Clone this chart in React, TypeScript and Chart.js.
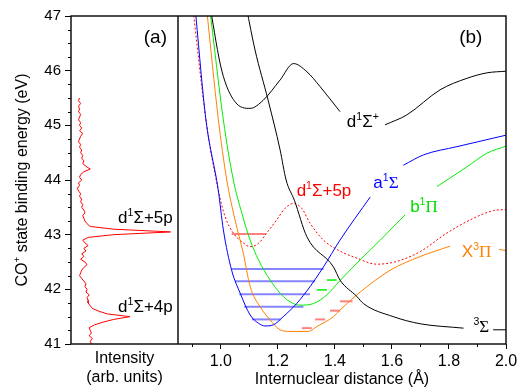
import React, { useEffect, useRef } from 'react';
import { Chart, registerables } from 'chart.js';
Chart.register(...registerables);

const SANS = '"Liberation Sans", Arial, sans-serif';
const SERIF = '"Liberation Serif", "Times New Roman", serif';

// axis ticks
const Y_TICKS = [41, 42, 43, 44, 45, 46, 47];
const Y_MIN = 41;
const Y_MAX = 47;
const R_TICKS = [1.0, 1.2, 1.4, 1.6, 1.8, 2.0];
const R_MINOR = [0.9, 1.1, 1.3, 1.5, 1.7, 1.9];

// panel (a): spectrum, energy (eV) and intensity (arb. units)
const SPEC_E = [45.5, 45.45, 45.4, 45.35, 45.3, 45.25, 45.2, 45.15, 45.1, 45.05, 45.0, 44.95, 44.9, 44.85, 44.8, 44.75, 44.7, 44.65, 44.6, 44.55, 44.5, 44.45, 44.4, 44.35, 44.3, 44.25, 44.2, 44.15, 44.1, 44.05, 44.0, 43.95, 43.9, 43.85, 43.8, 43.75, 43.7, 43.65, 43.6, 43.55, 43.5, 43.45, 43.4, 43.35, 43.3, 43.25, 43.2, 43.15, 43.1, 43.05, 43.0, 42.95, 42.9, 42.85, 42.8, 42.75, 42.7, 42.65, 42.6, 42.55, 42.5, 42.45, 42.4, 42.35, 42.3, 42.25, 42.2, 42.15, 42.1, 42.05, 42.0, 41.95, 41.9, 41.85, 41.8, 41.75, 41.7, 41.65, 41.6, 41.55, 41.5, 41.45, 41.4, 41.35, 41.3, 41.25, 41.2, 41.15, 41.1, 41.05, 41.0];
const SPEC_I = [8, 7, 9, 7, 8, 7, 9, 8, 7, 9, 8, 10, 8, 11, 9, 8, 7, 9, 8, 10, 9, 11, 10, 12, 11, 14, 18, 12, 9, 8, 10, 7, 8, 6, 7, 9, 8, 10, 9, 11, 10, 12, 13, 11, 12, 13, 15, 18, 40, 93, 40, 16, 11, 13, 16, 12, 14, 10, 12, 9, 13, 15, 12, 10, 9, 8, 10, 12, 14, 13, 15, 14, 17, 15, 16, 16, 18, 20, 26, 34, 55, 40, 30, 22, 17, 18, 19, 17, 20, 18, 19];

// panel (b): potential curves, R (Å) and E (eV); null = gap behind label
const D1S_R = [0.963, 1.003, 1.05, 1.103, 1.149, 1.208, 1.255, 1.302, 1.348, 1.418, 1.5, 1.576, 1.652, 1.769, 1.863, 1.933, 2.0];
const D1S_E = [47.15, 46.01, 45.43, 45.31, 45.46, 45.83, 46.13, 45.98, 45.71, 45.25, null, 45.01, 45.19, 45.65, 45.86, 45.96, 45.99];

const S3_R = [1.09, 1.12, 1.166, 1.208, 1.229, 1.258, 1.302, 1.395, 1.418, 1.477, 1.5, 1.605, 1.699, 1.851, 1.9, 1.955, 2.0];
const S3_E = [47.15, 46.38, 45.46, 44.55, 44.0, 43.63, 42.96, 42.41, 42.17, 41.87, 41.74, 41.5, 41.37, 41.29, null, 41.26, 41.26];

const A1S_R = [0.91, 0.948, 0.991, 1.009, 1.038, 1.068, 1.103, 1.132, 1.155, 1.184, 1.219, 1.266, 1.313, 1.36, 1.418, 1.524, 1.58, 1.64, 1.711, 1.828, 2.0];
const A1S_E = [47.15, 45.1, 43.82, 43.09, 42.35, 41.93, 41.53, 41.38, 41.33, 41.35, 41.5, 41.74, 42.05, 42.41, 42.9, 43.69, null, 44.27, 44.46, 44.61, 44.82];

const B1P_R = [0.961, 1.009, 1.044, 1.074, 1.103, 1.132, 1.173, 1.208, 1.243, 1.278, 1.325, 1.372, 1.418, 1.489, 1.559, 1.646, 1.7, 1.758, 1.863, 1.933, 2.0];
const B1P_E = [47.15, 45.1, 44.0, 43.39, 42.9, 42.54, 42.17, 41.93, 41.77, 41.71, 41.74, 41.9, 42.16, 42.54, 42.9, 43.36, null, 43.88, 44.24, 44.49, 44.62];

const X3P_R = [0.95, 0.991, 1.021, 1.05, 1.079, 1.103, 1.138, 1.173, 1.208, 1.243, 1.307, 1.337, 1.395, 1.418, 1.489, 1.594, 1.699, 1.804, 1.9, 1.976, 2.0];
const X3P_E = [47.15, 45.13, 44.0, 43.27, 42.66, 42.05, 41.68, 41.44, 41.26, 41.23, 41.23, 41.32, 41.5, 41.62, 41.95, 42.35, 42.6, 42.79, null, 42.73, 42.71];

const D5P_R = [0.902, 0.948, 0.991, 1.015, 1.044, 1.074, 1.103, 1.132, 1.161, 1.196, 1.225, 1.255, 1.284, 1.313, 1.36, 1.418, 1.477, 1.547, 1.617, 1.699, 1.793, 1.886, 1.956, 2.0];
const D5P_E = [47.15, 45.1, 43.82, 43.33, 43.03, 42.87, 42.78, 42.84, 43.03, 43.27, 43.48, 43.57, 43.48, 43.21, 42.9, 42.7, 42.57, 42.46, 42.51, 42.69, 43.03, 43.3, 43.44, 43.46];

// vibrational levels: energy, start R, end R
const LEV_A_E = [42.37, 42.15, 41.91, 41.68, 41.45];
const LEV_A_R0 = [1.038, 1.05, 1.065, 1.082, 1.109];
const LEV_A_R1 = [1.36, 1.331, 1.313, 1.29, 1.21];
const LEV_D_E = [43.01];
const LEV_D_R0 = [1.038];
const LEV_D_R1 = [1.158];
const LEV_B_E = [42.17, 41.99];
const LEV_B_R0 = [1.372, 1.337];
const LEV_B_R1 = [1.406, 1.372];
const LEV_X_E = [41.78, 41.61, 41.45, 41.29];
const LEV_X_R0 = [1.418, 1.383, 1.331, 1.284];
const LEV_X_R1 = [1.462, 1.418, 1.366, 1.319];

const curve = (R: number[], E: (number | null)[], color: string, extra: any = {}) => ({
  data: R.map((r, i) => ({ x: r, y: E[i] })),
  xAxisID: 'xb',
  yAxisID: 'y',
  showLine: true,
  borderColor: color,
  borderWidth: 1,
  pointRadius: 0,
  pointHoverRadius: 0,
  spanGaps: false,
  cubicInterpolationMode: 'monotone',
  fill: false,
  ...extra,
});

const levels = (E: number[], R0: number[], R1: number[], color: string, width: number) =>
  E.map((e, i) => ({
    data: [{ x: R0[i], y: e }, { x: R1[i], y: e }],
    xAxisID: 'xb',
    yAxisID: 'y',
    showLine: true,
    borderColor: color,
    borderWidth: width,
    pointRadius: 0,
    pointHoverRadius: 0,
    tension: 0,
    fill: false,
  }));

type Part = [string, string?];

function drawRich(ctx: CanvasRenderingContext2D, parts: Part[], x: number, y: number, size: number, color: string, align = 'left') {
  const fontOf = (sz: number, serif: boolean) => `${sz}px ${serif ? SERIF : SANS}`;
  let w = 0;
  const segs = parts.map(([t, k]) => {
    const sz = k === 's' ? size * 0.62 : size;
    ctx.font = fontOf(sz, k === 'f');
    const m = ctx.measureText(t).width;
    w += m;
    return { t, k, sz, m };
  });
  let cx = align === 'center' ? x - w / 2 : x;
  ctx.fillStyle = color;
  ctx.textAlign = 'left';
  ctx.textBaseline = 'alphabetic';
  for (const s of segs) {
    ctx.font = fontOf(s.sz, s.k === 'f');
    ctx.fillText(s.t, cx, s.k === 's' ? y - size * 0.42 : y);
    cx += s.m;
  }
}

const annotPlugin = {
  id: 'annot',
  afterDraw(chart: any) {
    const { ctx, chartArea: ca } = chart;
    const ys = chart.scales.y;
    const xa = chart.scales.xa;
    const xb = chart.scales.xb;
    ctx.save();
    // minor ticks
    ctx.strokeStyle = '#000';
    ctx.lineWidth = 1;
    ctx.beginPath();
    const nMinor = (Y_MAX - Y_MIN) * 4;
    for (let k = 1; k < nMinor; k++) {
      if (k % 4 === 0) continue;
      const py = Math.round(ys.getPixelForValue(Y_MIN + k * 0.25)) + 0.5;
      ctx.moveTo(ca.left - 3, py);
      ctx.lineTo(ca.left, py);
    }
    for (const r of R_MINOR) {
      const px = Math.round(xb.getPixelForValue(r)) + 0.5;
      ctx.moveTo(px, ca.bottom);
      ctx.lineTo(px, ca.bottom + 3);
    }
    ctx.stroke();
    // frame
    ctx.lineWidth = 1.5;
    ctx.strokeStyle = '#111';
    ctx.strokeRect(ca.left, ca.top, ca.right - ca.left, ca.bottom - ca.top);
    ctx.beginPath();
    ctx.moveTo(xb.left, ca.top);
    ctx.lineTo(xb.left, ca.bottom);
    ctx.stroke();

    const px = (s: any, v: number) => s.getPixelForValue(v);
    // panel labels
    drawRich(ctx, [['(a)']], px(xa, 68), px(ys, 46.51), 19, '#000');
    drawRich(ctx, [['(b)']], px(xb, 1.836), px(ys, 46.51), 19, '#000');
    // panel (a) peak labels
    drawRich(ctx, [['d'], ['1', 's'], ['Σ+5p']], px(xa, 44), px(ys, 43.21), 17, '#000');
    drawRich(ctx, [['d'], ['1', 's'], ['Σ+4p']], px(xa, 44), px(ys, 41.59), 17, '#000');
    // panel (b) curve labels
    drawRich(ctx, [['d'], ['1', 's'], ['Σ'], ['+', 's']], px(xb, 1.442), px(ys, 44.975), 17, '#000');
    drawRich(ctx, [['d'], ['1', 's'], ['Σ+5p']], px(xb, 1.266), px(ys, 43.71), 17, '#ff0000');
    drawRich(ctx, [['a'], ['1', 's'], ['Σ', 'f']], px(xb, 1.535), px(ys, 43.85), 17, '#0000ff');
    drawRich(ctx, [['b'], ['1', 's'], ['Π', 'f']], px(xb, 1.664), px(ys, 43.42), 17, '#00dd00');
    drawRich(ctx, [['X'], ['3', 's'], ['Π', 'f']], px(xb, 1.845), px(ys, 42.59), 17, '#ff8000');
    drawRich(ctx, [['3', 's'], ['Σ', 'f']], px(xb, 1.886), px(ys, 41.225), 17, '#000');

    // axis titles
    const cy = (ca.top + ca.bottom) / 2;
    ctx.save();
    ctx.translate(27, cy);
    ctx.rotate(-Math.PI / 2);
    drawRich(ctx, [['CO'], ['+', 's'], [' state binding energy (eV)']], 0, 0, 16, '#000', 'center');
    ctx.restore();
    drawRich(ctx, [['Intensity']], (xa.left + xa.right) / 2, 363, 16, '#000', 'center');
    drawRich(ctx, [['(arb. units)']], (xa.left + xa.right) / 2, 382, 16, '#000', 'center');
    drawRich(ctx, [['Internuclear distance (Å)']], (xb.left + xb.right) / 2, 384, 16, '#000', 'center');
    ctx.restore();
  },
};

export default function App() {
  const ref = useRef<HTMLCanvasElement | null>(null);
  useEffect(() => {
    if (!ref.current) return;
    const datasets: any[] = [
      {
        data: SPEC_E.map((e, i) => ({ x: SPEC_I[i], y: e })),
        xAxisID: 'xa',
        yAxisID: 'y',
        showLine: true,
        borderColor: '#ff0000',
        borderWidth: 1,
        pointRadius: 0,
        pointHoverRadius: 0,
        tension: 0,
        fill: false,
      },
      curve(D1S_R, D1S_E, '#000000'),
      curve(S3_R, S3_E, '#000000'),
      curve(A1S_R, A1S_E, '#0000ff'),
      curve(B1P_R, B1P_E, '#00ee00'),
      curve(X3P_R, X3P_E, '#ff8000'),
      curve(D5P_R, D5P_E, '#ff0000', { borderDash: [2, 2] }),
      ...levels(LEV_A_E, LEV_A_R0, LEV_A_R1, '#8585ff', 2),
      ...levels(LEV_D_E, LEV_D_R0, LEV_D_R1, '#ff8080', 2),
      ...levels(LEV_B_E, LEV_B_R0, LEV_B_R1, '#00ee00', 1.5),
      ...levels(LEV_X_E, LEV_X_R0, LEV_X_R1, '#ff8080', 2),
    ];
    const chart = new Chart(ref.current, {
      type: 'scatter',
      data: { datasets },
      options: {
        animation: false,
        responsive: false,
        maintainAspectRatio: false,
        layout: { padding: { top: 16, right: 16, left: 0, bottom: 0 } },
        plugins: { legend: { display: false }, tooltip: { enabled: false } },
        events: [],
        scales: {
          y: {
            type: 'linear',
            position: 'left',
            min: Y_MIN,
            max: Y_MAX,
            afterFit: (s: any) => { s.width = 71; },
            afterBuildTicks: (s: any) => { s.ticks = Y_TICKS.map((v) => ({ value: v })); },
            ticks: { font: { family: SANS, size: 15 }, color: '#000', padding: 4 },
            grid: { display: true, drawOnChartArea: false, drawTicks: true, tickLength: 6, tickColor: '#000', color: '#000' },
            border: { display: false },
          },
          xa: {
            type: 'linear',
            position: 'bottom',
            stack: 'bx',
            stackWeight: 107,
            min: 0,
            max: 100,
            afterFit: (s: any) => { s.height = 44; },
            ticks: { display: false },
            grid: { display: false },
            border: { display: false },
          },
          xb: {
            type: 'linear',
            position: 'bottom',
            stack: 'bx',
            stackWeight: 328,
            min: 0.85,
            max: 2.0,
            afterFit: (s: any) => { s.height = 44; },
            afterBuildTicks: (s: any) => { s.ticks = R_TICKS.map((v) => ({ value: v })); },
            ticks: {
              font: { family: SANS, size: 16 },
              color: '#000',
              padding: 3,
              maxRotation: 0,
              autoSkip: false,
              callback: (v: any) => Number(v).toFixed(1),
            },
            grid: { display: true, drawOnChartArea: false, drawTicks: true, tickLength: 5, tickColor: '#000', color: '#000' },
            border: { display: false },
          },
        },
      } as any,
      plugins: [annotPlugin],
    });
    return () => chart.destroy();
  }, []);
  return (
    <div style={{ position: 'absolute', left: 0, top: 0, width: 522, height: 388, background: '#fff' }}>
      <canvas ref={ref} width={522} height={388} style={{ display: 'block' }} />
    </div>
  );
}
